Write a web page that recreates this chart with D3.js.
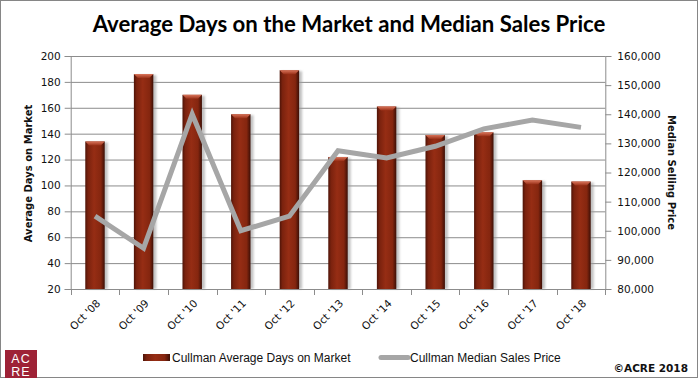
<!DOCTYPE html>
<html>
<head>
<meta charset="utf-8">
<script src="https://cdn.jsdelivr.net/npm/d3@7"></script>
<style>
  body { margin: 0; background: #fff; }
  svg { display: block; }
</style>
</head>
<body>
<svg id="chart"></svg>
<script>
// values
const categories = ["Oct '08", "Oct '09", "Oct '10", "Oct '11", "Oct '12", "Oct '13", "Oct '14", "Oct '15", "Oct '16", "Oct '17", "Oct '18"];
const daysOnMarket = [134, 186, 170, 155, 189, 122, 161, 139, 141, 104, 103];
const medianPrice = [105000, 94000, 140000, 100000, 105000, 127500, 125000, 129000, 135000, 138000, 135500];
const leftTicks = [20, 40, 60, 80, 100, 120, 140, 160, 180, 200];
const rightTicks = [80000, 90000, 100000, 110000, 120000, 130000, 140000, 150000, 160000];

const width = 698, height = 378;
const marginLeft = 70.7, marginRight = 92.7, marginTop = 56, marginBottom = 89;

const svg = d3.select('#chart')
  .attr('width', width)
  .attr('height', height)
  .attr('viewBox', [0, 0, width, height]);

const defs = svg.append('defs');
const grad = defs.append('linearGradient').attr('id', 'barGrad').attr('x1', 0).attr('x2', 1).attr('y1', 0).attr('y2', 0);
grad.append('stop').attr('offset', '0%').attr('stop-color', '#4e1408');
grad.append('stop').attr('offset', '14%').attr('stop-color', '#7a220e');
grad.append('stop').attr('offset', '45%').attr('stop-color', '#962d14');
grad.append('stop').attr('offset', '80%').attr('stop-color', '#85260f');
grad.append('stop').attr('offset', '100%').attr('stop-color', '#3c0f06');
const capGrad = defs.append('linearGradient').attr('id', 'capGrad').attr('x1', 0).attr('x2', 0).attr('y1', 0).attr('y2', 1);
capGrad.append('stop').attr('offset', '0%').attr('stop-color', '#d9745a');
capGrad.append('stop').attr('offset', '100%').attr('stop-color', '#9a3018');
defs.append('filter').attr('id', 'blur').append('feGaussianBlur').attr('stdDeviation', 1.2);

// outer frame
svg.append('rect').attr('x', 0.5).attr('y', 0.5).attr('width', width - 1).attr('height', height - 1)
  .attr('fill', '#fff').attr('stroke', '#868686');

const x = d3.scaleBand().domain(categories)
  .range([marginLeft, width - marginRight])
  .paddingInner(0.6).paddingOuter(0.3);
const yL = d3.scaleLinear().domain([20, 200]).range([height - marginBottom, marginTop]);
const yR = d3.scaleLinear().domain([80000, 160000]).range([height - marginBottom, marginTop]);

// gridlines
svg.append('g')
  .attr('transform', `translate(${marginLeft},0)`)
  .call(d3.axisLeft(yL).tickValues(leftTicks).tickSize(-(width - marginLeft - marginRight)).tickFormat(''))
  .call(g => g.select('.domain').remove())
  .call(g => g.selectAll('line').attr('stroke', '#8c8c8c'));

// left axis
svg.append('g')
  .attr('transform', `translate(${marginLeft},0)`)
  .call(d3.axisLeft(yL).tickValues(leftTicks).tickSize(6).tickPadding(4))
  .call(g => g.select('.domain').attr('stroke', '#8c8c8c'))
  .call(g => g.selectAll('line').attr('stroke', '#8c8c8c'))
  .call(g => g.selectAll('text').attr('font-family', 'DejaVu Sans').attr('font-size', '10.5px').attr('fill', '#111'));

// right axis
svg.append('g')
  .attr('transform', `translate(${width - marginRight},0)`)
  .call(d3.axisRight(yR).tickValues(rightTicks).tickSize(6).tickPadding(6).tickFormat(d3.format(',')))
  .call(g => g.select('.domain').attr('stroke', '#8c8c8c'))
  .call(g => g.selectAll('line').attr('stroke', '#8c8c8c'))
  .call(g => g.selectAll('text').attr('font-family', 'DejaVu Sans').attr('font-size', '10.5px').attr('fill', '#111'));

// bottom axis with ticks between categories
const bottom = svg.append('g');
bottom.append('line')
  .attr('x1', marginLeft).attr('x2', width - marginRight)
  .attr('y1', yL(20) + 0.5).attr('y2', yL(20) + 0.5)
  .attr('stroke', '#8c8c8c');
d3.range(categories.length + 1).forEach(i => {
  const tx = Math.round(x.range()[0] + i * x.step()) + 0.5;
  bottom.append('line').attr('x1', tx).attr('x2', tx)
    .attr('y1', yL(20)).attr('y2', yL(20) + 6).attr('stroke', '#8c8c8c');
});
bottom.selectAll('text.xlab')
  .data(categories)
  .join('text')
  .attr('class', 'xlab')
  .attr('transform', d => `translate(${x(d) + x.bandwidth() / 2 + 6},${yL(20) + 15}) rotate(-45)`)
  .attr('text-anchor', 'end')
  .attr('font-family', 'DejaVu Sans')
  .attr('font-size', '10.5px')
  .attr('fill', '#111')
  .text(d => d);

// bars
const bars = svg.append('g').selectAll('g')
  .data(categories)
  .join('g');
bars.append('rect')
  .attr('x', d => x(d) + 2)
  .attr('y', (d, i) => yL(daysOnMarket[i]) + 1)
  .attr('width', x.bandwidth() + 1)
  .attr('height', (d, i) => yL(20) - yL(daysOnMarket[i]) - 1)
  .attr('fill', '#9a9a9a')
  .attr('opacity', 0.6)
  .attr('filter', 'url(#blur)');
bars.append('rect')
  .attr('x', d => x(d))
  .attr('y', (d, i) => yL(daysOnMarket[i]))
  .attr('width', x.bandwidth())
  .attr('height', (d, i) => yL(20) - yL(daysOnMarket[i]))
  .attr('fill', 'url(#barGrad)');
bars.append('path')
  .attr('d', (d, i) => {
    const x0 = x(d), x1 = x(d) + x.bandwidth(), y0 = yL(daysOnMarket[i]);
    return `M${x0},${y0}L${x1},${y0}L${x1 - 4},${y0 + 4}L${x0 + 4},${y0 + 4}Z`;
  })
  .attr('fill', 'url(#capGrad)');

// line
const line = d3.line()
  .x((d, i) => x(categories[i]) + x.bandwidth() / 2)
  .y(d => yR(d));
svg.append('path')
  .datum(medianPrice)
  .attr('d', line)
  .attr('fill', 'none')
  .attr('stroke', '#a6a6a6')
  .attr('stroke-width', 5);

// title
svg.append('text')
  .attr('x', 349).attr('y', 32)
  .attr('text-anchor', 'middle')
  .attr('font-family', 'Lato')
  .attr('font-weight', 'bold')
  .attr('font-size', '22.2px')
  .attr('fill', '#000')
  .text('Average Days on the Market and Median Sales Price');

// axis titles
svg.append('text')
  .attr('transform', `translate(32,${(marginTop + height - marginBottom) / 2 + 1}) rotate(-90)`)
  .attr('text-anchor', 'middle')
  .attr('font-family', 'DejaVu Sans')
  .attr('font-weight', 'bold')
  .attr('font-size', '10px')
  .attr('fill', '#111')
  .text('Average Days on Market');
svg.append('text')
  .attr('transform', `translate(668,${(marginTop + height - marginBottom) / 2}) rotate(90)`)
  .attr('text-anchor', 'middle')
  .attr('font-family', 'DejaVu Sans')
  .attr('font-weight', 'bold')
  .attr('font-size', '10px')
  .attr('fill', '#111')
  .text('Median Selling Price');

// legend
const legend = svg.append('g').attr('font-family', 'Liberation Sans').attr('font-size', '12px').attr('fill', '#111');
legend.append('rect').attr('x', 143).attr('y', 354).attr('width', 27).attr('height', 7).attr('fill', 'url(#barGrad)');
legend.append('text').attr('x', 172).attr('y', 361.5).text('Cullman Average Days on Market');
legend.append('line').attr('x1', 381).attr('x2', 408).attr('y1', 357.5).attr('y2', 357.5)
  .attr('stroke', '#a6a6a6').attr('stroke-width', 5).attr('stroke-linecap', 'round');
legend.append('text').attr('x', 410).attr('y', 361.5).text('Cullman Median Sales Price');

// copyright
svg.append('text')
  .attr('x', 688).attr('y', 372)
  .attr('text-anchor', 'end')
  .attr('font-family', 'DejaVu Sans')
  .attr('font-weight', 'bold')
  .attr('font-size', '10.5px')
  .attr('fill', '#111')
  .text('\u00a9ACRE 2018');

// logo
const logo = svg.append('g');
logo.append('rect').attr('x', 5).attr('y', 350).attr('width', 32).attr('height', 28).attr('fill', '#9e2236');
logo.append('text').attr('x', 21).attr('y', 363).attr('text-anchor', 'middle')
  .attr('font-family', 'Liberation Sans').attr('font-size', '12.5px').attr('letter-spacing', '1px')
  .attr('fill', '#fff').text('AC');
logo.append('text').attr('x', 21).attr('y', 376).attr('text-anchor', 'middle')
  .attr('font-family', 'Liberation Sans').attr('font-size', '12.5px').attr('letter-spacing', '1px')
  .attr('fill', '#fff').text('RE');
</script>
</body>
</html>
